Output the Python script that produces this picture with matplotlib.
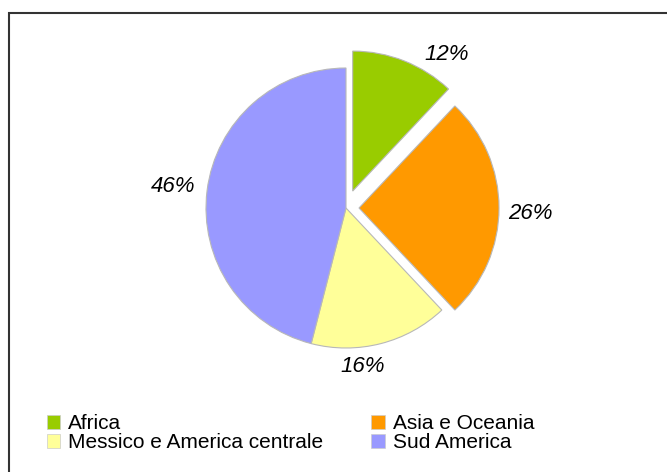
import numpy as np
import matplotlib
matplotlib.use("Agg")
import matplotlib.pyplot as plt
from matplotlib.patches import Rectangle

plt.rcParams['font.family'] = ['Liberation Sans', 'DejaVu Sans']

regions = ['Africa', 'Asia e Oceania', 'Messico e America centrale', 'Sud America']
shares = [12, 26, 16, 46]
colors = ['#99cc00', '#ff9900', '#ffff99', '#9999ff']
explode = [0.13, 0.093, 0.0, 0.0]

# label placement: distance from wedge centre (radius units) and angular nudge (deg)
lab_dist = [1.183, 1.226, 1.135, 1.242]
lab_rot = [-13.1, -1.8, -8.3, 0.1]

W, H = 667, 472
cx, cy, R = 346, 208, 140

fig = plt.figure(figsize=(W / 100, H / 100), dpi=100)
ax = fig.add_axes([0, 0, 1, 1])
ax.axis('off')

wedges, texts, autotexts = ax.pie(
    shares, colors=colors, explode=explode, startangle=90, counterclock=False,
    radius=1.0, autopct='%d%%', pctdistance=1.2,
    wedgeprops=dict(edgecolor='#b8b8b8', linewidth=0.8),
    textprops=dict(fontsize=16, style='italic', color='black'))

for w, t, d, rot in zip(wedges, autotexts, lab_dist, lab_rot):
    mid = np.deg2rad((w.theta1 + w.theta2) / 2 + rot)
    x0, y0 = w.center
    t.set_position((x0 + d * np.cos(mid), y0 + d * np.sin(mid)))
    t.set_ha('center')
    t.set_va('center')

ax.set_xlim(-cx / R, (W - cx) / R)
ax.set_ylim((cy - H) / R, cy / R)
ax.set_aspect('auto')

# legend laid out row by row
order = [0, 2, 1, 3]
leg = fig.legend([wedges[i] for i in order], [regions[i] for i in order],
                 ncol=2, loc='upper left', bbox_to_anchor=(46.5 / W, 1 - 414 / H),
                 frameon=False, fontsize=15, handlelength=0.67, handleheight=0.67,
                 handletextpad=0.37, columnspacing=2.3, labelspacing=0.0,
                 borderpad=0, borderaxespad=0)
for h in leg.legend_handles:
    h.set_edgecolor('#cccccc')
    h.set_linewidth(0.5)

# chart border
fig.patches.append(Rectangle((9 / W, -0.1), 1.2, (H - 13) / H + 0.1,
                             transform=fig.transFigure, fill=False,
                             edgecolor='#333333', linewidth=1.5))

fig.savefig('out.png', dpi=100)
